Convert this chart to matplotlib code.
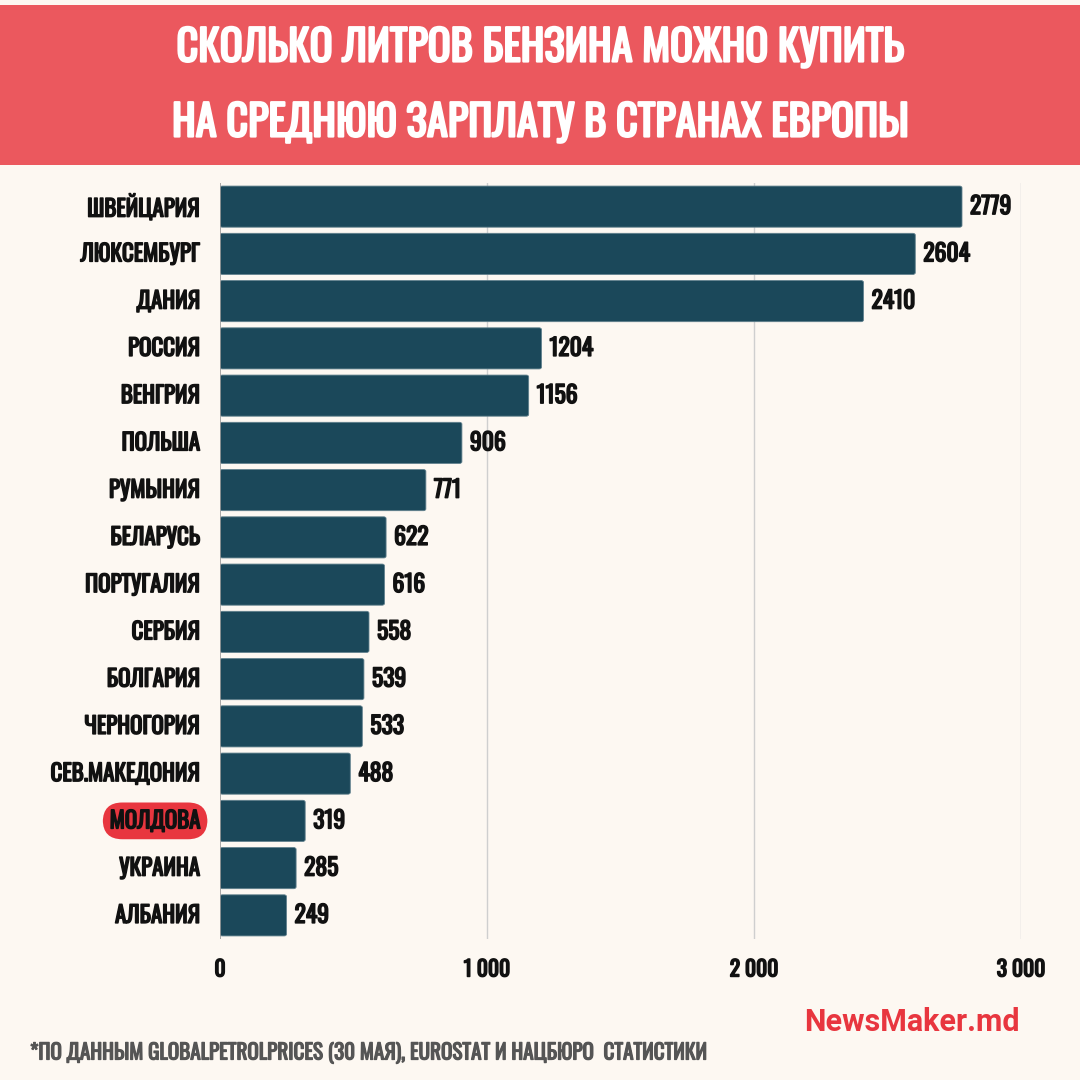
import matplotlib
matplotlib.use('Agg')
import matplotlib.pyplot as plt
import matplotlib.patheffects as pe
from matplotlib.patches import FancyBboxPatch, Rectangle

countries = ['ШВЕЙЦАРИЯ', 'ЛЮКСЕМБУРГ', 'ДАНИЯ', 'РОССИЯ', 'ВЕНГРИЯ', 'ПОЛЬША',
             'РУМЫНИЯ', 'БЕЛАРУСЬ', 'ПОРТУГАЛИЯ', 'СЕРБИЯ', 'БОЛГАРИЯ',
             'ЧЕРНОГОРИЯ', 'СЕВ.МАКЕДОНИЯ', 'МОЛДОВА', 'УКРАИНА', 'АЛБАНИЯ']
litres = [2779, 2604, 2410, 1204, 1156, 906, 771, 622, 616, 558, 539, 533, 488, 319, 285, 249]
xticks = [0, 1000, 2000, 3000]
xtick_labels = ['0', '1 000', '2 000', '3 000']
highlight = 'МОЛДОВА'

title_lines = ['СКОЛЬКО ЛИТРОВ БЕНЗИНА МОЖНО КУПИТЬ', 'НА СРЕДНЮЮ ЗАРПЛАТУ В СТРАНАХ ЕВРОПЫ']
footnote = '*ПО ДАННЫМ GLOBALPETROLPRICES (30 МАЯ), EUROSTAT И НАЦБЮРО  СТАТИСТИКИ'

BG = '#fdf8f2'
HEAD = '#eb585e'
BAR = '#1b485a'
PILL = '#e8363f'
INK = '#111111'

plt.rcParams['font.family'] = ['Oswald', 'PT Sans Narrow', 'DejaVu Sans']


def heavy(color, w=1.0):
    # Oswald only comes in the regular weight here, thicken it a bit
    return [pe.withStroke(linewidth=w, foreground=color)]


fig = plt.figure(figsize=(10.8, 10.8), dpi=100)
fig.patch.set_facecolor(BG)

# header band
fig.patches.append(Rectangle((0, 1 - 165 / 1080), 1, 160 / 1080, transform=fig.transFigure,
                             facecolor=HEAD, edgecolor='none', zorder=0))
for i, line in enumerate(title_lines):
    fig.text(0.5, 1 - (48 + 75 * i) / 1080, line, ha='center', va='center', color='white',
             fontsize=30.5, path_effects=heavy('white', 1.6))

ax = fig.add_axes([220 / 1080, 1 - 939 / 1080, 801 / 1080, 756 / 1080])
ax.set_facecolor(BG)
n = len(countries)
ypos = list(range(n))
ax.set_xlim(0, 3000)
ax.set_ylim(n - 0.5, -0.5)

for x in xticks[1:]:
    ax.axvline(x, color='#cfcfcf', lw=1, zorder=0)
ax.axvline(0, color='#9a9a9a', lw=1.2, zorder=3)

h = 0.87
for y, v in zip(ypos, litres):
    box = FancyBboxPatch((0, y - h / 2), v, h, boxstyle='round,pad=0,rounding_size=9',
                         mutation_aspect=1 / 240, facecolor=BAR, edgecolor='#5f7f8c', lw=0.6, zorder=2)
    ax.add_patch(box)
    ax.text(v + 30, y, str(v), ha='left', va='center', fontsize=17, color=INK,
            path_effects=heavy(INK, 1.1))

ax.set_yticks(ypos)
ax.set_yticklabels(countries, fontsize=16.5, color=INK, va='center')
ax.tick_params(axis='y', length=0, pad=14)
ax.set_xticks(xticks)
ax.set_xticklabels(xtick_labels, fontsize=15.5, color=INK)
ax.tick_params(axis='x', length=0, pad=14)
for s in ax.spines.values():
    s.set_visible(False)

for lab in ax.get_yticklabels() + ax.get_xticklabels():
    lab.set_path_effects(heavy(INK, 1.1))
    if lab.get_text() == highlight:
        lab.set_bbox(dict(boxstyle='round,pad=0.3,rounding_size=0.85', facecolor=PILL, edgecolor='none'))

fig.text(1020 / 1080, 1 - 1022 / 1080, 'NewsMaker.md', ha='right', va='center', color=PILL,
         fontsize=22, fontweight='bold', family=['Roboto', 'DejaVu Sans'])
fig.text(30 / 1080, 1 - 1053 / 1080, footnote, ha='left', va='center', color='#555555',
         fontsize=15.2, path_effects=heavy('#555555', 0.9))

fig.savefig('out.png', dpi=100, facecolor=BG)
